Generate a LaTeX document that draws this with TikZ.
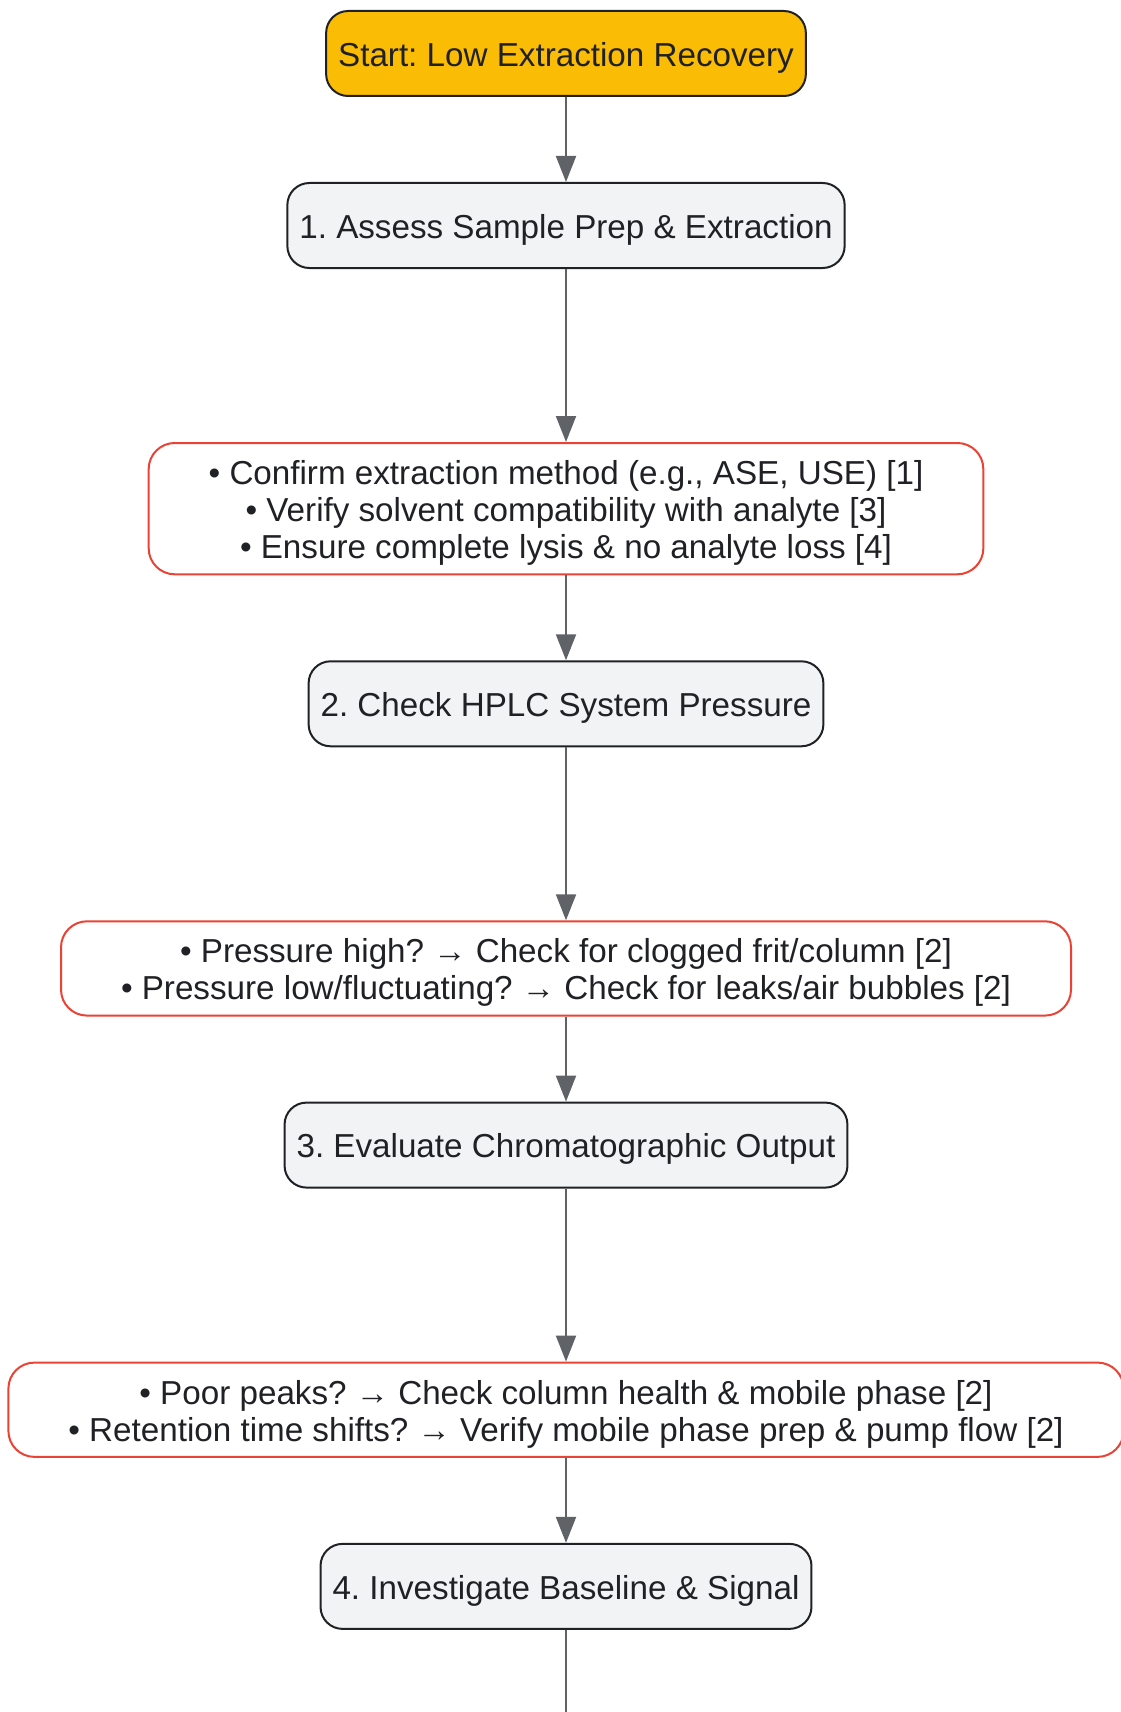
\documentclass[tikz,border=0pt]{standalone}
\usepackage{fontspec}
\setmainfont{Liberation Sans}
\frenchspacing
\usetikzlibrary{positioning,arrows.meta}
\definecolor{ink}{HTML}{202124}
\definecolor{edge}{HTML}{5F6368}
\definecolor{stepfill}{HTML}{F1F3F4}
\definecolor{startfill}{HTML}{FBBC05}
\definecolor{notered}{HTML}{EA4335}
\newcommand{\tallline}{\rule{0pt}{16.4pt}}

\begin{document}
\begin{tikzpicture}[main/.style = {draw=ink, line width=1pt, rounded corners=11pt, fill=stepfill, text=ink, font=\fontsize{16.6}{18.5}\selectfont, minimum height=42.5pt, inner xsep=6pt, text height=16.4pt, text depth=3.5pt},
	first/.style = {main, fill=startfill},
	note/.style = {draw=notered, line width=1pt, rounded corners=13pt, fill=white, text=ink, font=\fontsize{16.6}{18.5}\selectfont, align=center, inner xsep=30pt, inner ysep=4.4pt},
	link/.style = {draw=edge, line width=1pt, -{Triangle[length=13pt,width=10pt]}}]
	\useasboundingbox (0,0) rectangle (560pt,-856pt);
	\node[first] (0) at (283pt,-26.75pt) {Start: Low Extraction Recovery};
	\node[main] (1) [below=42.5pt of 0] {1. Assess Sample Prep \& Extraction};
	\node[note] (1a) [below=86.5pt of 1] {\tallline• Confirm extraction method (e.g., ASE, USE) [1]\\ • Verify solvent compatibility with analyte [3]\\ • Ensure complete lysis \& no analyte loss [4]};
	\node[main] (2) [below=42.5pt of 1a] {2. Check HPLC System Pressure};
	\node[note] (2a) [below=86.5pt of 2] {\tallline• Pressure high? → Check for clogged frit/column [2]\\ • Pressure low/fluctuating? → Check for leaks/air bubbles [2]};
	\node[main] (3) [below=42.5pt of 2a] {3. Evaluate Chromatographic Output};
	\node[note] (3a) [below=86.5pt of 3] {\tallline• Poor peaks? → Check column health \& mobile phase [2]\\ • Retention time shifts? → Verify mobile phase prep \& pump flow [2]};
	\node[main] (4) [below=42.5pt of 3a] {4. Investigate Baseline \& Signal};
	\coordinate (5) at (283pt,-856pt);
	\draw[link] (0) -- (1);
	\draw[link] (1) -- (1a);
	\draw[link] (1a) -- (2);
	\draw[link] (2) -- (2a);
	\draw[link] (2a) -- (3);
	\draw[link] (3) -- (3a);
	\draw[link] (3a) -- (4);
	\draw[draw=edge, line width=1pt] (4) -- (5);
\end{tikzpicture}
\end{document}
